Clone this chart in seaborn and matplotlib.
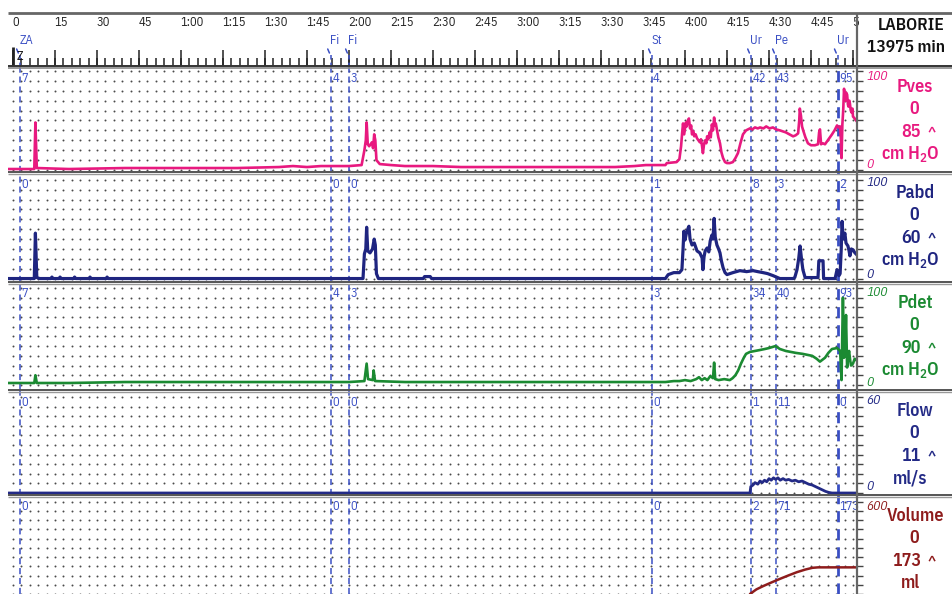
import numpy as np
import pandas as pd
import seaborn as sns
import matplotlib.pyplot as plt

W, H = 952, 594

# time axis (15-unit steps)
tick_times = list(range(0, 301, 15))
tick_labels = ['0', '15', '30', '45', '1:00', '1:15', '1:30', '1:45', '2:00', '2:15', '2:30',
               '2:45', '3:00', '3:15', '3:30', '3:45', '4:00', '4:15', '4:30', '4:45', '5']

# event markers
event_times = [2.5, 113.6, 120.0, 228.2, 263.6, 272.5, 294.6]
event_names = ['ZA', 'Fi', 'Fi', 'St', 'Ur', 'Pe', 'Ur']

# channel values at each event
pves_marks = ['7', '4', '3', '4', '42', '43', '95']
pabd_marks = ['0', '0', '0', '1', '8', '3', '2']
pdet_marks = ['7', '4', '3', '3', '34', '40', '93']
flow_marks = ['0', '0', '0', '0', '1', '11', '0']
vol_marks = ['0', '0', '0', '0', '2', '71', '173']

# traces
pves_t = [-1.8, 5, 7.6, 8.0, 8.5, 20, 40, 60, 80, 95, 100, 105, 110, 115, 120, 124.5, 125.5, 126.0,
          126.3, 126.7, 127.2, 128.2, 128.6, 129.0, 129.4, 129.8, 131, 135, 140, 150, 160, 180, 200,
          215, 222, 226, 228, 233, 233.5, 237, 238, 238.6, 239.0, 239.3, 239.7, 240.0, 240.3, 240.6,
          241.0, 241.4, 241.8, 242.2, 242.5, 243.0, 243.3, 243.8, 244.3, 244.8, 245.3, 245.7, 246.1,
          246.4, 246.8, 247.2, 247.6, 247.9, 248.3, 248.8, 249.2, 249.6, 250.0, 250.4, 250.7, 251.0,
          251.4, 251.9, 252.5, 253.0, 253.6, 254.3, 255.0, 256.0, 257.1, 258.0, 258.9, 259.8, 260.7,
          261.8, 263.2, 264.0, 265.0, 266.0, 266.8, 268.0, 269.0, 270.2, 271.4, 272.5, 273.9, 275.0,
          276.0, 277.3, 278.6, 279.5, 280.4, 280.8, 281.0, 281.4, 281.8, 282.1, 283.0, 283.9, 285.0,
          286.4, 287.5, 287.9, 288.2, 288.6, 289.2, 290.0, 291.0, 292.5, 293.4, 294.3, 294.9, 295.4,
          295.7, 295.9, 296.2, 296.5, 296.8, 297.1, 297.3, 297.6, 297.9, 298.2, 298.4, 298.7, 298.9,
          299.2, 299.5, 299.8, 300.0, 300.6, 301.4]
pves_v = [1, 1, 1, 48, 2, 1, 2, 2, 2, 3, 4, 3, 4, 4, 4, 5, 20, 30,
          48, 26, 24, 28, 22, 36, 30, 10, 6, 5, 4, 4, 3, 3, 3,
          3, 4, 5, 5, 5, 7, 8, 11, 24, 38, 47, 36, 42, 48, 44,
          50, 52, 42, 45, 36, 39, 34, 36, 32, 30, 28, 31, 24,
          17, 26, 30, 27, 34, 31, 38, 33, 46, 40, 53, 45, 47,
          41, 33, 27, 18, 12, 8, 7, 7, 8, 12, 17, 27, 36,
          40, 42, 41, 43, 42, 43, 42, 44, 42, 43, 41, 40, 39,
          38, 36, 34, 35, 37, 50, 62, 55, 44, 41, 33, 27, 25,
          25, 26, 38, 41, 26, 27, 26, 30, 36, 40, 45, 43, 44,
          30, 12, 46, 60, 82, 72, 70, 78, 76, 66, 64, 70, 67,
          60, 58, 62, 54, 52, 49]

pabd_t = [-1.8, 7.6, 8.0, 8.5, 9.5, 13.6, 13.9, 14.3, 16.5, 16.8, 17.2, 21.7, 22.0, 22.4, 27.2, 27.5,
          27.9, 33.3, 33.6, 34.0, 125.0, 125.5, 126.0, 126.3, 126.7, 127.5, 128.4, 129.0, 129.4,
          129.8, 130.5, 146.5, 147, 149, 149.5, 233, 234, 236, 238, 238.9, 239.3, 239.6, 240.0,
          240.5, 241.1, 241.4, 241.8, 242.5, 243.3, 244.3, 245.3, 246.1, 246.4, 246.8, 247.2, 247.9,
          248.5, 249.0, 249.6, 250.0, 250.4, 250.8, 251.4, 252.0, 252.5, 253.0, 253.6, 254.3, 255.0,
          257.1, 259.6, 262, 264.3, 266, 267.9, 269.5, 271.4, 273.9, 278.6, 279.2, 280.0, 280.6,
          281.1, 281.6, 282.1, 282.9, 287.5, 287.8, 289.3, 289.5, 293.6, 294.3, 295.0, 295.4, 295.8,
          296.1, 296.5, 297.1, 297.5, 298.2, 298.6, 298.9, 299.4, 300.0, 300.7, 301.4]
pabd_v = [0, 0, 46, 1, 0, 0, 1.5, 0, 0, 1.5, 0, 0, 1.5, 0, 0, 1.5,
          0, 0, 1.5, 0, 0, 25, 30, 52, 28, 26, 30, 40, 34,
          5, 0, 0, 2, 2, 0, 0, 4, 6, 6, 9, 30, 48, 39,
          46, 51, 53, 40, 34, 36, 28, 26, 21, 9, 22, 28, 31,
          27, 38, 44, 40, 61, 42, 34, 30, 26, 18, 11, 6, 4,
          6, 8, 7, 8, 7, 6, 5, 3, 0, 0, 1, 9, 20,
          33, 20, 9, 1, 1, 18, 18, 0, 0, 9, 3, 5, 30,
          58, 40, 46, 36, 33, 28, 23, 30, 29, 26, 24]

pdet_t = [-1.8, 7.6, 8.0, 8.5, 20, 40, 60, 80, 100, 110, 120, 125.5, 126.3, 126.8, 128.5, 128.8,
          129.3, 140, 180, 220, 233, 236, 238, 240, 242, 244, 245, 246, 247, 248, 249, 250.0, 250.4,
          250.8, 252, 254, 256, 257, 258, 259, 260, 261, 261.8, 263.2, 265, 266.8, 268.5, 270, 272.3,
          273.9, 276, 279.6, 282, 285.4, 287, 288.2, 290, 291.2, 292.5, 294.3, 295.4, 295.9, 296.4,
          296.8, 297.2, 297.5, 297.9, 298.3, 298.6, 299.0, 299.3, 300.0, 300.6, 301.4]
pdet_v = [2, 2, 10, 2, 2, 3, 3, 3, 3, 3, 3, 4, 22, 6, 5, 15,
          4, 3, 3, 3, 3, 4, 4, 5, 4, 6, 8, 5, 7, 5, 9, 7, 23,
          6, 5, 6, 5, 7, 10, 15, 22, 28, 32, 34, 35, 36, 37, 38, 40,
          37, 35, 33, 32, 30, 27, 24, 28, 33, 37, 38, 35, 5, 90,
          28, 40, 72, 18, 30, 35, 25, 20, 22, 27, 25]

flow_t = [-1.8, 263.2, 263.5, 264.3, 265, 266, 266.8, 267.6, 268.4, 269.2, 270, 270.8, 271.6, 272.4,
          273.2, 274, 275, 276, 277, 278.2, 279.4, 280.6, 281.8, 283, 284.2, 285.4, 286.6, 287.8,
          289, 290.2, 291.5, 292.5, 301.4]
flow_v = [0, 0, 4, 5, 6.5, 5.5, 7.5, 6.5, 8, 7, 9, 8, 9.5, 8.5,
          9.5, 8, 9, 8, 8.5, 7.5, 8, 7, 7.5, 6.5, 5.5, 5, 4, 3,
          2, 1, 0.3, 0, 0]

vol_t = [263.2, 265.5, 268, 271, 274, 277, 280, 283, 285.5, 287.5, 301.4]
vol_v = [0, 30, 52, 76, 99, 121, 142, 159, 170, 173, 173]

ev_blue = '#3a4fc4'

# name, color, current value, unit, full scale, marks, t, v, band (top,bottom px), ylim, lw
channels = [
    ('Pves', '#e8197f', '85', 'cm H$_2$O', 100, pves_marks, pves_t, pves_v, (66, 172), (-2.0, 105), 1.9),
    ('Pabd', '#1f2580', '60', 'cm H$_2$O', 100, pabd_marks, pabd_t, pabd_v, (172, 282), (-3.5, 108), 2.3),
    ('Pdet', '#1b8a32', '90', 'cm H$_2$O', 100, pdet_marks, pdet_t, pdet_v, (282, 390), (-5.2, 106), 1.9),
    ('Flow', '#232a86', '11', 'ml/s', 60, flow_marks, flow_t, flow_v, (390, 495), (-1.25, 64.4), 2.0),
    ('Volume', '#8e1c1c', '173', 'ml', 600, vol_marks, vol_t, vol_v, (495, 594), (36.7, 643), 1.8),
]

sns.set_style('white')
plt.rcParams['font.family'] = ['IBM Plex Sans Condensed', 'DejaVu Sans']
plt.rcParams['mathtext.fontset'] = 'custom'
plt.rcParams['mathtext.rm'] = 'IBM Plex Sans Condensed:semibold'

fig = plt.figure(figsize=(W / 100, H / 100), dpi=100)


def px_axes(left, top, right, bottom, z=1):
    return fig.add_axes([left / W, 1 - bottom / H, (right - left) / W, (bottom - top) / H], zorder=z)


xlim = ((8 - 13) / 2.8, (857 - 13) / 2.8)
dot_t = np.arange(0, 301, 3)

for name, color, val, unit, full, marks, t, v, (top, bot), ylim, lw in channels:
    ax = px_axes(8, top, 857, bot)
    ax.set_xlim(*xlim)
    ax.set_ylim(*ylim)
    # dotted lattice
    gx, gy = np.meshgrid(dot_t, np.linspace(0, full, 11))
    ax.scatter(gx.ravel(), gy.ravel(), s=2.0, color='#4a4a4a', linewidths=0, zorder=1)
    for i, (et, mk) in enumerate(zip(event_times, marks)):
        ax.axvline(et, color=ev_blue, ls=(0, (4, 2.5)), lw=2.0 if i == len(marks) - 1 else 1.1, zorder=2)
        ax.text(et + 0.4, 1 - 12 / (bot - top), mk, transform=ax.get_xaxis_transform(),
                color=ev_blue, fontsize=9, va='center', ha='left', zorder=4)
    df = pd.DataFrame({'t': t, 'v': v})
    sns.lineplot(data=df, x='t', y='v', ax=ax, color=color, linewidth=lw,
                 estimator=None, sort=False, zorder=3)
    ax.set_xlabel('')
    ax.set_ylabel('')
    ax.set_xticks([])
    ax.yaxis.tick_right()
    ax.set_yticks(np.linspace(0, full, 11))
    ax.tick_params(axis='y', direction='out', length=4, width=1, color='#444444',
                   labelright=False, pad=0)
    for s in ax.spines.values():
        s.set_visible(False)
    ax.patch.set_alpha(0)

# header ruler
hx = px_axes(8, 13, 857, 66)
hx.set_xlim(*xlim)
hx.set_ylim(66, 13)
hx.axis('off')
hx.vlines(np.arange(0, 301, 3), 58, 66, color='#222222', lw=1.1)
hx.vlines(tick_times, 50, 66, color='#222222', lw=1.1)
hx.vlines([0], 47, 66, color='#222222', lw=2)
hx.text(1.3, 56, 'Z', fontsize=9, color='#111111', ha='left', va='center')
for tt, lab in zip(tick_times, tick_labels):
    hx.text(tt - 0.3, 23, lab, fontsize=9, color='#222222', ha='left', va='center')
for et, en in zip(event_times, event_names):
    hx.text(et - 0.3, 40, en, fontsize=9, color=ev_blue, ha='left', va='center')
    hx.plot([et - 1.2, et - 0.6], [49, 53], color=ev_blue, lw=1.1)
    hx.vlines([et], 55, 66, color=ev_blue, lw=1.1, linestyles=(0, (3, 2)))

# right-hand label panel
rp = px_axes(857, 13, 952, 594, z=5)
rp.set_xlim(857, 952)
rp.set_ylim(594, 13)
rp.axis('off')
rp.text(911, 26, 'LABORIE', fontsize=12.5, fontweight='semibold', color='#111111', ha='center', va='center')
rp.text(906, 48, '13975 min', fontsize=12.5, fontweight='semibold', color='#111111', ha='center', va='center')
for name, color, val, unit, full, marks, t, v, (top, bot), ylim, lw in channels:
    rp.text(866, top + 11, str(full), fontsize=9.5, style='italic', color=color, ha='left', va='center')
    if bot < 594:
        rp.text(866, bot - 8, '0', fontsize=9.5, style='italic', color=color, ha='left', va='center')
    rp.text(915, top + 21, name, fontsize=13, fontweight='semibold', color=color, ha='center', va='center')
    rp.text(914, top + 43, '0', fontsize=13, fontweight='semibold', color=color, ha='center', va='center')
    rp.text(921, top + 66, val, fontsize=13, fontweight='semibold', color=color, ha='right', va='center')
    rp.text(932, top + 66, '^', fontsize=11, fontweight='semibold', color=color, ha='center', va='center')
    rp.text(910, top + 88, unit, fontsize=13, fontweight='semibold', color=color, ha='center', va='center')

# frame lines
ov = px_axes(0, 0, 952, 594, z=10)
ov.set_xlim(0, 952)
ov.set_ylim(594, 0)
ov.axis('off')
ov.patch.set_alpha(0)
ov.hlines(13, 8, 952, color='#666666', lw=2)
ov.hlines(65.5, 8, 952, color='#333333', lw=1.4)
ov.hlines(67.5, 8, 952, color='#888888', lw=1.2)
for y in [172, 282, 390, 495]:
    ov.hlines(y, 8, 952, color='#555555', lw=1.4)
    ov.hlines(y + 2, 8, 952, color='#999999', lw=1.0)
ov.vlines(857, 13, 594, color='#666666', lw=1.6)

fig.savefig('out.png', dpi=100)
